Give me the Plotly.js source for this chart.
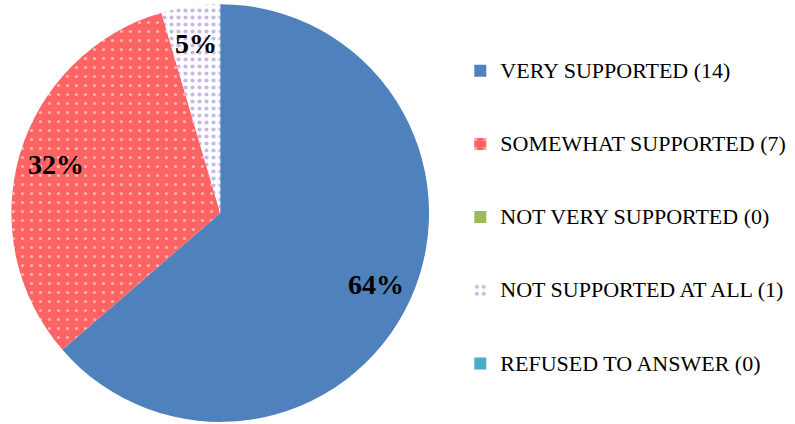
<!DOCTYPE html>
<html><head><meta charset="utf-8">
<script src="https://cdn.plot.ly/plotly-3.0.1.min.js"></script>
<style>body{margin:0;background:#fff}#c{width:795px;height:424px}</style>
</head><body><div id="c"></div>
<script>
const categories = ["VERY SUPPORTED", "SOMEWHAT SUPPORTED", "NOT VERY SUPPORTED", "NOT SUPPORTED AT ALL", "REFUSED TO ANSWER"];
const counts = [14, 7, 0, 1, 0];
const colors = ["#4F81BD", "#FF6464", "#9BBB59", "#FFFFFF", "#4BACC6"];

const W = 795, H = 424;
const dom = {x: [0.014, 0.54], y: [0.005, 0.99]};
const legendLabels = categories.map((c, i) =>
  "&nbsp;<br><span style='font-size:22px'>" + c + " (" + counts[i] + ")</span><br>&nbsp;");

const total = counts.reduce((a, b) => a + b, 0);
// label positions derived from the data (slice mid-angles)
const cx = (dom.x[0] + dom.x[1]) / 2 * W;
const cyPx = H - (dom.y[0] + dom.y[1]) / 2 * H;
const R = (dom.y[1] - dom.y[0]) * H / 2;
const annotations = [];
let cum = 0;
counts.forEach((v, i) => {
  if (v > 0) {
    const mid = (cum + v / 2) / total * 2 * Math.PI;
    const f = 0.82;
    const px = cx + R * f * Math.sin(mid);
    const py = cyPx - R * f * Math.cos(mid);
    annotations.push({
      x: px / W, y: 1 - py / H, xref: "paper", yref: "paper",
      xanchor: "center", yanchor: "middle",
      text: "<b>" + Math.round(v / total * 100) + "%</b>", showarrow: false,
      font: {family: "Liberation Serif", size: 28, color: "#000"}
    });
  }
  cum += v;
});

const trace = {
  type: "pie",
  labels: legendLabels,
  values: counts,
  sort: false,
  direction: "clockwise",
  rotation: 0,
  textinfo: "none",
  hoverinfo: "label+percent",
  domain: dom,
  marker: {
    colors: colors,
    line: {width: 0},
    pattern: {
      shape: ["", ".", "", ".", ""],
      fgcolor: ["#4F81BD", "#FFFFFF", "#9BBB59", "#8F6FCB", "#4BACC6"],
      bgcolor: colors,
      size: [8, 9, 8, 7, 8],
      solidity: [0.3, 0.1, 0.3, 0.28, 0.3],
      fillmode: "overlay"
    }
  }
};

const layout = {
  width: W, height: H,
  margin: {l: 0, r: 0, t: 0, b: 0},
  paper_bgcolor: "#fff",
  showlegend: true,
  legend: {
    x: 0.579, y: 0.488, xanchor: "left", yanchor: "middle",
    font: {family: "Liberation Serif", size: 18, color: "#000"},
    itemwidth: 30
  },
  annotations: annotations
};

Plotly.newPlot("c", [trace], layout, {displayModeBar: false});
</script>
</body></html>
